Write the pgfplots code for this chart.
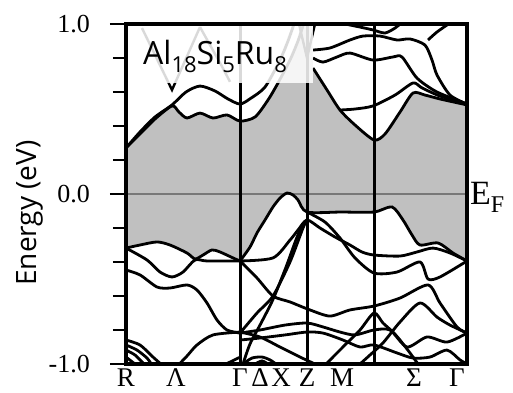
\documentclass[border=0pt]{standalone}
\usepackage{pgfplots}
\pgfplotsset{compat=1.18}
\usepackage{fontspec}
\setmainfont{Liberation Serif}
\newfontfamily\sansf{Open Sans}
\definecolor{gapgray}{RGB}{192,192,192}
\definecolor{efgray}{RGB}{120,120,120}
\begin{document}
\begin{tikzpicture}
\begin{axis}[
  at={(0pt,0pt)}, anchor=south west,
  scale only axis, width=341pt, height=340pt,
  xmin=0, xmax=341, ymin=-1, ymax=1,
  clip mode=individual,
  axis on top,
  axis line style={line width=3.4pt},
  ytick={-1,0,1}, yticklabels={-1.0,0.0,1.0},
  minor ytick={-0.8,-0.6,-0.4,-0.2,0.2,0.4,0.6,0.8},
  ytick pos=left, xtick pos=bottom,
  tick align=outside,
  major tick length=16pt, minor tick length=13pt,
  ytick style={black, line width=2.8pt},
  xtick={0,50,114,134,155,181,216,288,331},
  xticklabels={R,Λ,Γ,Δ,X,Z,M,Σ,Γ},
  xtick style={draw=none},
  xticklabel style={font=\fontsize{27}{27}\selectfont, anchor=base, inner sep=0pt, yshift=-6pt},
  yticklabel style={font=\fontsize{26}{26}\selectfont, anchor=east, inner sep=0pt, xshift=-20pt},
  band/.style={black, line width=2.8pt, smooth, tension=0.45, no marks},
  faint/.style={black, line width=2.4pt, no marks},
]
% gap region (between highest valence band and lowest conduction band)
\addplot[fill=gapgray, draw=none] coordinates {
 (0,0.271)(14,0.353)(29,0.441)(46,0.518)(53,0.482)(61,0.447)(74,0.476)(87,0.447)(101,0.465)(114,0.429)
 (129,0.453)(142,0.553)(152,0.653)(164,0.788)(172,0.9)(177,0.99)(186,0.99)
 (187,0.741)(201,0.612)(214,0.494)(229,0.406)(248,0.318)(259,0.353)(274,0.482)(287,0.594)(299,0.582)(314,0.559)(341,0.524)
 (341,-0.394)(327,-0.347)(312,-0.288)(294,-0.3)(286,-0.241)(277,-0.153)(266,-0.076)(248,-0.106)(181,-0.106)
 (172,-0.035)(167,-0.006)(161,0.006)(154,-0.024)(147,-0.076)(139,-0.153)(131,-0.229)(124,-0.312)(114,-0.394)
 (107,-0.376)(94,-0.341)(86,-0.329)(77,-0.359)(69,-0.382)(61,-0.347)(44,-0.3)(31,-0.282)(14,-0.3)(0,-0.318)
} -- cycle;
% Fermi level
\addplot[efgray, line width=1.2pt, no marks] coordinates {(0,0)(341,0)};
% ---- conduction bands ----
\addplot[band] coordinates {(0,0.271)(14,0.365)(29,0.453)(46,0.524)(60,0.6)(74,0.635)(89,0.606)(102,0.559)(114,0.529)(124,0.56)(139,0.629)(154,0.788)(162,0.9)(168,1.0)};
\addplot[band] coordinates {(0,0.271)(14,0.353)(29,0.441)(46,0.518)(53,0.482)(61,0.447)(74,0.476)(87,0.447)(101,0.465)(114,0.429)(129,0.453)(142,0.553)(152,0.653)(164,0.788)(172,0.9)(177,0.99)};
\addplot[faint] coordinates {(16,0.976)(46,0.612)(74,0.982)};
\addplot[faint] coordinates {(74,0.982)(96,0.75)(104,0.66)};
\addplot[faint] coordinates {(173,1.0)(181,0.8)(189,1.0)};
\addplot[band] coordinates {(187,0.847)(204,0.859)(224,0.906)(237,0.929)(254,0.929)(271,0.906)(284,0.912)(299,0.876)(306,0.788)(311,0.7)(324,0.582)(341,0.529)};
\addplot[band] coordinates {(187,0.8)(197,0.776)(211,0.806)(224,0.829)(247,0.788)(267,0.806)(276,0.806)(291,0.682)(311,0.6)(341,0.529)};
\addplot[band] coordinates {(187,0.741)(201,0.612)(214,0.494)(229,0.406)(248,0.318)(259,0.353)(274,0.482)(287,0.594)(299,0.582)(314,0.559)(341,0.524)};
\addplot[band] coordinates {(214,0.494)(229,0.5)(247,0.518)(269,0.582)(287,0.653)(296,0.624)(314,0.576)(341,0.529)};
\addplot[band] coordinates {(219,1.0)(234,0.982)(247,0.965)(259,0.947)(269,0.976)(274,1.0)};
\addplot[band] coordinates {(302,0.906)(311,0.953)(321,0.994)};
% ---- valence bands ----
\addplot[band] coordinates {(0,-0.318)(14,-0.3)(31,-0.282)(44,-0.3)(61,-0.347)(69,-0.382)(77,-0.359)(86,-0.329)(94,-0.341)(107,-0.376)(114,-0.394)};
\addplot[band] coordinates {(0,-0.318)(21,-0.388)(34,-0.459)(46,-0.488)(57,-0.459)(69,-0.388)(81,-0.394)(114,-0.394)};
\addplot[band] coordinates {(0,-0.447)(14,-0.476)(31,-0.547)(44,-0.553)(61,-0.535)(71,-0.565)(81,-0.641)(91,-0.741)(101,-0.8)(114,-0.818)};
\addplot[band] coordinates {(50,-1.02)(61,-0.953)(71,-0.888)(87,-0.829)(114,-0.812)};
\addplot[band] coordinates {(0,-0.859)(14,-0.888)(27,-0.959)(36,-1.006)};
\addplot[band] coordinates {(0,-0.888)(11,-0.918)(21,-0.965)(26,-1.006)};
\addplot[band] coordinates {(0,-0.918)(9,-0.947)(17,-0.994)};
\addplot[band] coordinates {(0,-0.959)(9,-1.0)};
\addplot[band] coordinates {(100,-1.0)(114,-0.96)};
\addplot[band] coordinates {(114,-0.394)(124,-0.312)(131,-0.229)(139,-0.153)(147,-0.076)(154,-0.024)(161,0.006)(167,-0.006)(172,-0.035)(181,-0.106)(215,-0.106)(248,-0.106)(266,-0.076)(277,-0.153)(286,-0.241)(294,-0.3)(312,-0.288)(327,-0.347)(341,-0.394)};
\addplot[band] coordinates {(114,-0.394)(147,-0.376)(164,-0.271)(172,-0.212)(181,-0.153)(194,-0.2)(209,-0.253)(224,-0.3)(236,-0.341)(248,-0.359)(274,-0.365)(291,-0.341)(307,-0.318)(324,-0.347)(341,-0.394)};
\addplot[band] coordinates {(181,-0.106)(199,-0.165)(214,-0.259)(229,-0.376)(248,-0.465)(271,-0.459)(294,-0.4)(302,-0.5)(314,-0.488)(341,-0.394)};
\addplot[band] coordinates {(114,-0.394)(131,-0.494)(147,-0.6)(164,-0.635)(184,-0.682)(204,-0.718)(224,-0.682)(248,-0.659)(274,-0.612)(302,-0.535)(314,-0.641)(331,-0.782)(341,-0.818)};
\addplot[band] coordinates {(114,-0.818)(131,-0.7)(147,-0.6)(164,-0.4)(177,-0.2)(181,-0.153)};
\addplot[band] coordinates {(117,-1.0)(124,-0.882)(135,-0.76)(147,-0.62)(160,-0.43)(172,-0.24)(181,-0.153)};
\addplot[band] coordinates {(114,-0.812)(134,-0.841)(154,-0.9)(174,-0.959)(189,-1.0)};
\addplot[band] coordinates {(114,-0.818)(134,-0.8)(159,-0.771)(181,-0.759)(197,-0.782)(214,-0.812)(229,-0.829)(248,-0.8)(264,-0.8)(281,-0.9)(301,-0.841)(321,-0.871)(341,-0.818)};
\addplot[band] coordinates {(114,-0.859)(134,-0.847)(159,-0.829)(181,-0.812)(197,-0.818)(217,-0.859)(234,-0.9)(248,-0.888)(271,-0.935)(287,-0.965)(304,-0.959)(321,-0.918)(334,-0.976)(341,-1.0)};
\addplot[band] coordinates {(197,-1.018)(219,-0.888)(234,-0.8)(248,-0.7)(257,-0.759)(267,-0.812)(274,-0.859)(284,-0.935)(292,-1.0)};
\addplot[band] coordinates {(234,-1.0)(244,-0.947)(257,-0.876)(274,-0.753)(294,-0.641)(311,-0.724)(324,-0.771)(341,-0.818)};
\addplot[band] coordinates {(117,-1.0)(126,-0.965)(136,-0.959)(144,-0.976)(150,-1.0)};
\addplot[band] coordinates {(129,-1.0)(136,-0.982)(142,-1.0)};
% high-symmetry separators
\addplot[black, line width=3pt, no marks] coordinates {(114,-1)(114,1)};
\addplot[black, line width=3pt, no marks] coordinates {(181,-1)(181,1)};
\addplot[black, line width=3pt, no marks] coordinates {(248,-1)(248,1)};
% label box
\fill[white, opacity=0.85] (axis cs:9,0.653) rectangle (axis cs:187,1.0);
\node[anchor=base west, inner sep=0pt] at (axis cs:17,0.759)
  {\sansf\fontsize{32}{32}\selectfont Al\raisebox{-8pt}{\fontsize{22}{22}\selectfont 18}Si\raisebox{-8pt}{\fontsize{22}{22}\selectfont 5}Ru\raisebox{-8pt}{\fontsize{22}{22}\selectfont 8}};
\node[anchor=base west, inner sep=0pt] at (axis cs:344,-0.059)
  {\fontsize{34}{34}\selectfont E\raisebox{-8pt}{\fontsize{24}{24}\selectfont F}};
\node[rotate=90, anchor=base, inner sep=0pt] at (axis cs:-89,-0.112)
  {\sansf\fontsize{28}{28}\selectfont Energy (eV)};
\end{axis}
\pgfresetboundingbox
\path (-126pt,-28pt) rectangle (387pt,364pt);
\end{tikzpicture}
\end{document}
